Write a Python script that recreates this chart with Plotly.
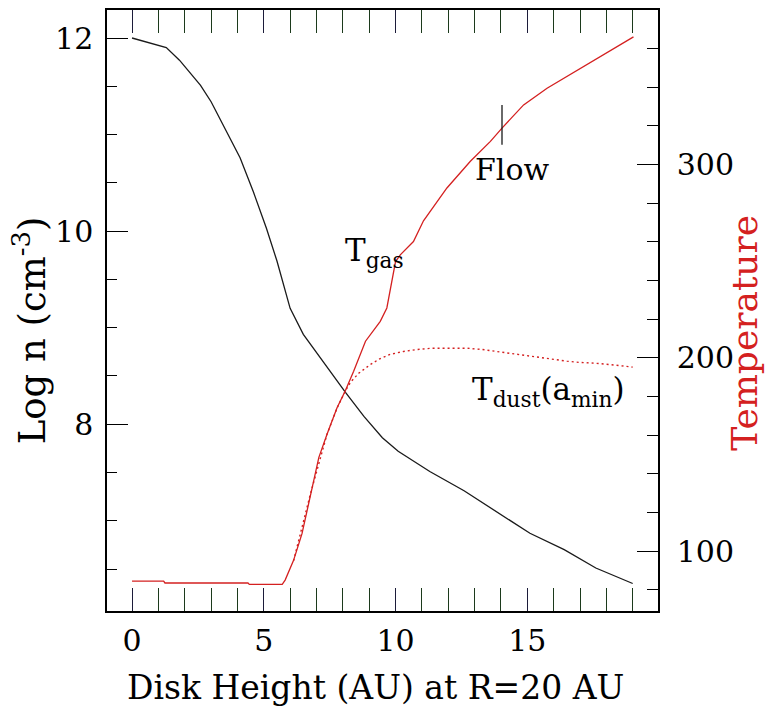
import plotly.graph_objects as go

# Density profile (left axis)
dens_x = [0, 1.3, 1.8, 2.6, 3.0, 3.6, 4.1, 4.6, 5.1, 5.5, 6.0, 6.5, 7.4, 8.1, 8.8, 9.5,
          10.1, 11.3, 12.6, 13.9, 15.1, 16.4, 17.6, 19.0]
dens_logn = [12.0, 11.9, 11.77, 11.51, 11.34, 11.03, 10.76, 10.41, 10.03, 9.69, 9.2, 8.93,
             8.59, 8.33, 8.08, 7.86, 7.72, 7.51, 7.31, 7.08, 6.87, 6.70, 6.51, 6.35]

# Gas temperature (right axis)
gas_x = [0, 1.2, 1.25, 4.4, 4.45, 5.7, 5.81, 6.13, 6.45, 6.77, 7.09, 7.4, 7.78, 8.09, 8.41,
         8.86, 9.42, 9.67, 9.86, 10.0, 10.18, 10.68, 11.06, 11.95, 12.84, 13.6, 14.04, 14.86,
         15.75, 17.0, 18.27, 19.03]
gas_T = [84.5, 84.5, 83.5, 83.5, 82.8, 82.8, 85, 95.2, 109, 129.6, 148.5, 160.5, 174.2, 182.8,
         193.1, 208.6, 218.9, 225.8, 239.5, 249.8, 253.3, 260.2, 270.9, 287.9, 301.7, 312,
         318.9, 330.9, 339.5, 349.8, 360.1, 366.1]

# Dust temperature (right axis)
dust_x = [6.13, 6.77, 7.4, 7.78, 8.1, 8.3, 8.6, 9.04, 9.4, 9.8, 10.3, 10.8, 11.4, 12.1, 12.7,
          13.3, 14.0, 14.6, 15.2, 15.9, 16.5, 17.0, 17.6, 18.3, 19.0]
dust_T = [95, 129.6, 160.5, 174, 183, 187.5, 192, 196.5, 199.5, 201.8, 203.3, 204.3, 205,
          205.2, 205, 204.3, 203, 201.8, 200.5, 199.2, 198.3, 197.6, 197.2, 196.3, 195.2]

# Flow marker
flow_x = [14.04, 14.04]
flow_T = [310.3, 330.9]

RED = "#d42020"
FONT = "DejaVu Serif"
XRANGE = [-0.95, 19.96]

fig = go.Figure()
fig.add_trace(go.Scatter(x=dens_x, y=dens_logn, mode="lines",
                         line=dict(color="#1a1a1a", width=1.3), yaxis="y"))
fig.add_trace(go.Scatter(x=gas_x, y=gas_T, mode="lines",
                         line=dict(color=RED, width=1.3), yaxis="y2"))
fig.add_trace(go.Scatter(x=dust_x, y=dust_T, mode="lines",
                         line=dict(color=RED, width=1.4, dash="2px,3px"), yaxis="y2"))
fig.add_trace(go.Scatter(x=flow_x, y=flow_T, mode="lines",
                         line=dict(color="#1a1a1a", width=1.3), yaxis="y2"))

def tickaxis(**kw):
    d = dict(showgrid=False, zeroline=False, showline=True, linecolor="black",
             linewidth=1.5, ticks="inside", tickcolor="black", tickwidth=1.3,
             tickfont=dict(family=FONT, size=30, color="black"))
    d.update(kw)
    return d

fig.update_layout(
    width=772, height=713,
    margin=dict(l=107, r=114, t=8, b=102),
    plot_bgcolor="white", paper_bgcolor="white",
    showlegend=False,
    font=dict(family=FONT, color="black"),
    xaxis=tickaxis(range=XRANGE, tick0=0, dtick=5, ticklen=23, mirror="allticks",
                   ticklabelstandoff=2, tickcolor="#1c1c3a",
                   minor=dict(tick0=0, dtick=1, ticklen=11, ticks="inside",
                              tickcolor="#1c3a1c", tickwidth=1.3, showgrid=False)),
    yaxis=tickaxis(range=[6.065, 12.29], tick0=0, dtick=2, ticklen=21, mirror=False,
                   ticklabelstandoff=6,
                   minor=dict(tick0=0, dtick=0.5, ticklen=10, ticks="inside",
                              tickcolor="black", tickwidth=1.3, showgrid=False)),
    yaxis2=tickaxis(range=[69, 380], tick0=0, dtick=100, ticklen=21, overlaying="y",
                    side="right", ticklabelstandoff=11,
                    minor=dict(tick0=0, dtick=20, ticklen=11, ticks="inside",
                               tickcolor="black", tickwidth=1.3, showgrid=False)),
)

ann = []
ann.append(dict(text="Disk Height (AU) at R=20 AU", xref="paper", yref="paper",
                x=0.488, y=-0.1277, xanchor="center", yanchor="middle", showarrow=False,
                font=dict(family=FONT, size=33, color="black")))
ann.append(dict(text="Log n (cm<sup>-3</sup>)", xref="paper", yref="paper",
                x=-0.1397, y=0.467, xanchor="center", yanchor="middle", textangle=-90,
                showarrow=False, font=dict(family=FONT, size=37, color="black")))
ann.append(dict(text="Temperature", xref="paper", yref="paper",
                x=1.158, y=0.463, xanchor="center", yanchor="middle", textangle=-90,
                showarrow=False, font=dict(family=FONT, size=36, color=RED)))
ann.append(dict(text="Flow", xref="x", yref="y2", x=14.42, y=297.3,
                xanchor="center", yanchor="middle", showarrow=False,
                font=dict(family=FONT, size=30, color="black")))
ann.append(dict(text="T<sub>gas</sub>", xref="x", yref="y2", x=8.0, y=254.5,
                xanchor="left", yanchor="middle", showarrow=False,
                font=dict(family=FONT, size=31, color="black")))
ann.append(dict(text="T<sub>dust</sub>(a<sub>min</sub>)", xref="x", yref="y2", x=15.81,
                y=182.8, xanchor="center", yanchor="middle", showarrow=False,
                font=dict(family=FONT, size=31, color="black")))
fig.update_layout(annotations=ann)

fig.write_html("out.html")
